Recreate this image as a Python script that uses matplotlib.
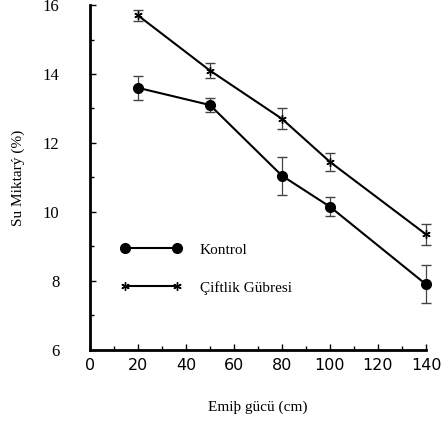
import matplotlib
matplotlib.use("Agg")
import matplotlib.pyplot as plt
from matplotlib.ticker import MultipleLocator

emis = [20, 50, 80, 100, 140]
kontrol = [13.6, 13.1, 11.05, 10.15, 7.9]
kontrol_err = [0.35, 0.2, 0.55, 0.28, 0.55]
ciftlik = [15.7, 14.1, 12.7, 11.45, 9.35]
ciftlik_err = [0.15, 0.23, 0.3, 0.26, 0.3]

serif = "Liberation Serif"


def main():
    fig = plt.figure(figsize=(4.41, 4.21), dpi=100)
    ax = fig.add_axes([0.204, 0.169, 0.762, 0.819])

    series = [
        (kontrol, kontrol_err, "o", 7, "Kontrol"),
        (ciftlik, ciftlik_err, (6, 2, 0), 6, "Çiftlik Gübresi"),
    ]
    for vals, err, mk, ms, lab in series:
        cont = ax.errorbar(emis, vals, yerr=err, color="black", lw=1.5,
                           marker=mk, markersize=ms, markeredgewidth=1,
                           ecolor="#444444", elinewidth=0.9, capsize=3.5,
                           capthick=0.9, label=lab)
        for art in [cont[0], *cont[1], *cont[2]]:
            art.set_clip_on(False)

    ax.set_xlim(0, 140)
    ax.set_ylim(6, 16)
    ax.spines["top"].set_visible(False)
    ax.spines["right"].set_visible(False)
    ax.spines["left"].set_linewidth(2)
    ax.spines["bottom"].set_linewidth(2)

    ax.xaxis.set_major_locator(MultipleLocator(20))
    ax.xaxis.set_minor_locator(MultipleLocator(10))
    ax.yaxis.set_major_locator(MultipleLocator(2))
    ax.yaxis.set_minor_locator(MultipleLocator(1))
    ax.tick_params(which="both", direction="in", width=1)
    ax.tick_params(which="major", length=4)
    ax.tick_params(which="minor", length=3)
    ax.tick_params(axis="y", pad=22)
    ax.tick_params(axis="x", pad=6)

    for lab in ax.get_yticklabels():
        lab.set_fontfamily(serif)
        lab.set_fontsize(12)
    for lab in ax.get_xticklabels():
        lab.set_fontfamily("DejaVu Sans")
        lab.set_fontsize(11.5)

    ax.set_ylabel("Su Miktarý (%)", fontfamily=serif, fontsize=11, labelpad=13)
    ax.set_xlabel("Emiþ gücü (cm)", fontfamily=serif, fontsize=11, labelpad=20)

    handles, labels = ax.get_legend_handles_labels()
    handles = [h[0] for h in handles]
    ax.legend(handles, labels, loc="upper left", bbox_to_anchor=(0.05, 0.35),
              frameon=False, numpoints=2, handlelength=4, handletextpad=1.2,
              labelspacing=1.6, prop={"family": serif, "size": 11})

    fig.savefig("out.png", dpi=100)


if __name__ == '__main__':
    main()
